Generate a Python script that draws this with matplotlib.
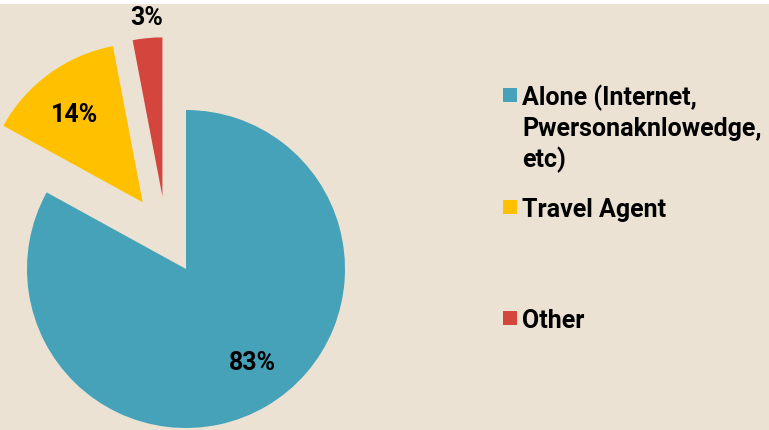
import matplotlib
matplotlib.use("Agg")
import matplotlib.pyplot as plt
from matplotlib.patches import Rectangle
import numpy as np

categories = ["Alone (Internet,\nPwersonaknlowedge,\netc)", "Travel Agent", "Other"]
values = [83, 14, 3]
colors = ["#45A2B8", "#FFC000", "#D3453D"]
explode = [0, 0.5, 0.48]

BG = "#EBE2D4"
FONT = ["Roboto", "DejaVu Sans"]
FS = 18

fig = plt.figure(figsize=(7.69, 4.30), dpi=100, facecolor=BG)
ax = fig.add_axes([0, 0, 1, 1])
ax.set_facecolor(BG)

R = 159.0
cx, cy = 186.0, 269.0
W, H = 769.0, 430.0

wedges, texts, autotexts = ax.pie(
    values, colors=colors, explode=explode, startangle=90, counterclock=False,
    autopct="%1.0f%%", pctdistance=0.7, radius=1.0,
    wedgeprops=dict(linewidth=0),
    textprops=dict(fontsize=FS, family=FONT, fontweight="bold", color="black"),
)
ax.set_xlim(-cx / R, (W - cx) / R)
ax.set_ylim(-(H - cy) / R, cy / R)
ax.set_aspect("equal")
ax.axis("off")

# yellow slice: slight lean as in the original
wy = wedges[1]
dy = np.deg2rad(123)
wy.set_center((explode[1] * np.cos(dy), explode[1] * np.sin(dy)))
autotexts[1].set_position((wy.center[0] + 0.7 * np.cos(np.deg2rad(128)),
                           wy.center[1] + 0.7 * np.sin(np.deg2rad(128))))

# small slice: offset direction as drawn in the original (leans left)
w = wedges[2]
d = np.deg2rad(108)
w.set_center((explode[2] * np.cos(d), explode[2] * np.sin(d)))
ang = np.deg2rad((w.theta1 + w.theta2) / 2)
c = w.center
autotexts[2].set_position((c[0] + 1.13 * np.cos(ang) + 0.01, c[1] + 1.13 * np.sin(ang)))

# main slice label nudge
p = autotexts[0].get_position()
autotexts[0].set_position((p[0] + 0.06, p[1] + 0.01))

# top white strip
fig.patches.append(Rectangle((0, 1 - 4 / H), 1, 4 / H, transform=fig.transFigure,
                             facecolor="white", edgecolor="none", zorder=0))

# legend
leg_base = [105, 217, 328]  # baseline row (from top) of first text line
LINE = 31
for lab, col, b in zip(categories, colors, leg_base):
    fig.patches.append(Rectangle((503 / W, 1 - (b - 3) / H), 14 / W, 14 / H,
                                 transform=fig.transFigure, facecolor=col,
                                 edgecolor="none"))
    for i, line in enumerate(lab.split("\n")):
        fig.text(522 / W, 1 - (b + i * LINE) / H, line, fontsize=FS, family=FONT,
                 fontweight="bold", va="baseline", ha="left")

fig.savefig("out.png", dpi=100, facecolor=BG)
